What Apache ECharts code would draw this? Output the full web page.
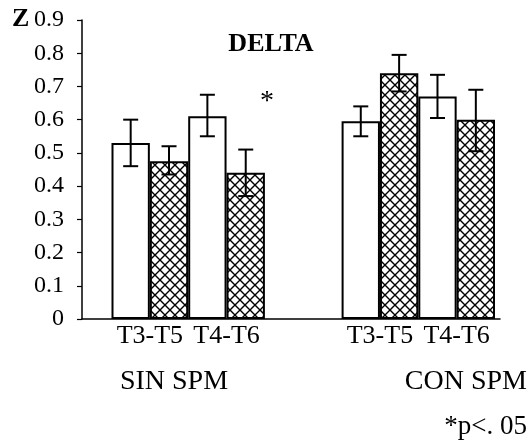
<!DOCTYPE html>
<html><head><meta charset="utf-8">
<script src="https://cdn.jsdelivr.net/npm/echarts@6/dist/echarts.min.js"></script>
<style>html,body{margin:0;padding:0;background:#fff}#c{width:531px;height:441px}</style>
</head><body><div id="c"></div>
<script>
const categories = ['T3-T5', 'T4-T6', '', 'T3-T5', 'T4-T6'];
const yTicks = [0, 0.1, 0.2, 0.3, 0.4, 0.5, 0.6, 0.7, 0.8, 0.9];
const whiteMean  = [0.53, 0.61, null, 0.595, 0.67];
const whiteHigh  = [0.60, 0.675, null, 0.64, 0.735];
const whiteLow   = [0.46, 0.55, null, 0.55, 0.605];
const hatchMean  = [0.475, 0.44, null, 0.74, 0.60];
const hatchHigh  = [0.52, 0.51, null, 0.795, 0.69];
const hatchLow   = [0.435, 0.37, null, 0.685, 0.505];
const groupLabels = ['SIN SPM', 'CON SPM'];
const FONT = 'Liberation Serif';

const pc = document.createElement('canvas');
pc.width = 10; pc.height = 10;
const g = pc.getContext('2d');
g.fillStyle = '#fff'; g.fillRect(0, 0, 10, 10);
g.strokeStyle = '#000'; g.lineWidth = 1.4;
g.beginPath();
g.moveTo(0, 0); g.lineTo(10, 10);
g.moveTo(10, 0); g.lineTo(0, 10);
g.stroke();

function errData(hi, lo) {
  return categories.map((c, i) => hi[i] == null ? [i, null, null] : [i, lo[i], hi[i]]);
}
function errSeries(hi, lo, side) {
  return {
    type: 'custom', xAxisIndex: 0, yAxisIndex: 0, z: 5,
    data: errData(hi, lo),
    renderItem: function (params, api) {
      if (api.value(1) == null || isNaN(api.value(1))) return null;
      const w = api.size([1, 0])[0];
      const top = api.coord([api.value(0), api.value(2)]);
      const bot = api.coord([api.value(0), api.value(1)]);
      const x = top[0] + side * w / 4;
      const cap = 7.5;
      const st = { stroke: '#000', lineWidth: 2 };
      return { type: 'group', children: [
        { type: 'line', shape: { x1: x, y1: top[1], x2: x, y2: bot[1] }, style: st },
        { type: 'line', shape: { x1: x - cap, y1: top[1], x2: x + cap, y2: top[1] }, style: st },
        { type: 'line', shape: { x1: x - cap, y1: bot[1], x2: x + cap, y2: bot[1] }, style: st }
      ]};
    }
  };
}

const chart = echarts.init(document.getElementById('c'), null, { renderer: 'canvas' });
chart.setOption({
  backgroundColor: '#fff',
  animation: false,
  grid: [
    { left: 111.5, right: 36, top: 20, bottom: 122 },
    { left: 82, right: 31, top: 20, bottom: 122 }
  ],
  xAxis: [
    { type: 'category', gridIndex: 0, data: categories,
      axisLine: { show: false }, axisTick: { show: false },
      axisLabel: { interval: 0, margin: 4, color: '#000', fontFamily: FONT, fontSize: 26 } },
    { type: 'value', gridIndex: 1, min: 0, max: 1,
      axisLine: { show: true, lineStyle: { color: '#000', width: 1.5 } },
      axisTick: { show: false }, axisLabel: { show: false }, splitLine: { show: false } }
  ],
  yAxis: [
    { type: 'value', gridIndex: 0, min: 0, max: 0.9, interval: 0.1, offset: 29.5,
      axisLine: { show: true, lineStyle: { color: '#000', width: 1.5 } },
      axisTick: { show: true, length: 5, inside: false, lineStyle: { color: '#000', width: 1.2 } },
      splitLine: { show: false },
      axisLabel: { margin: 18, color: '#000', fontFamily: FONT, fontSize: 24,
        formatter: v => String(Math.round(v * 10) / 10) } },
    { type: 'value', gridIndex: 1, show: false, min: 0, max: 1 }
  ],
  series: [
    { type: 'bar', name: 'white', data: whiteMean, barGap: '0%', barCategoryGap: '0%',
      itemStyle: { color: '#fff', borderColor: '#000', borderWidth: 2 } },
    { type: 'bar', name: 'hatched', data: hatchMean, barGap: '0%', barCategoryGap: '0%',
      itemStyle: { color: { image: pc, repeat: 'repeat' }, borderColor: '#000', borderWidth: 2 } },
    errSeries(whiteHigh, whiteLow, -1),
    errSeries(hatchHigh, hatchLow, 1)
  ],
  graphic: [
    { type: 'text', left: 12, top: 6, style: { text: 'Z', font: 'bold 26px "Liberation Serif"', fill: '#000' } },
    { type: 'text', x: 271, y: 44, style: { text: 'DELTA', font: 'bold 26px "Liberation Serif"', fill: '#000', textAlign: 'center', textVerticalAlign: 'middle' } },
    { type: 'text', x: 267, y: 102, style: { text: '*', font: '28px "Liberation Serif"', fill: '#000', textAlign: 'center', textVerticalAlign: 'middle' } },
    { type: 'text', x: 174, y: 382, style: { text: groupLabels[0], font: '28px "Liberation Serif"', fill: '#000', textAlign: 'center', textVerticalAlign: 'middle' } },
    { type: 'text', x: 527, y: 382, style: { text: groupLabels[1], font: '28px "Liberation Serif"', fill: '#000', textAlign: 'right', textVerticalAlign: 'middle' } },
    { type: 'text', x: 527, y: 427, style: { text: '*p<. 05', font: '27px "Liberation Serif"', fill: '#000', textAlign: 'right', textVerticalAlign: 'middle' } }
  ]
});
</script></body></html>
